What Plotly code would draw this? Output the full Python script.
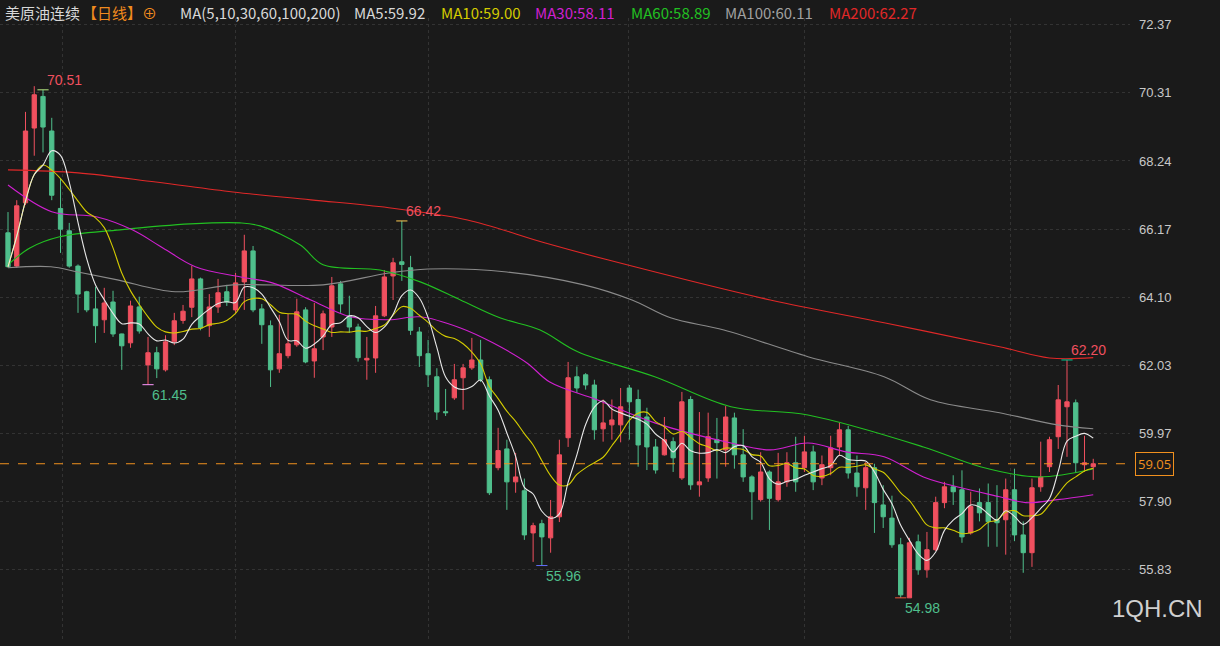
import plotly.graph_objects as go
import pandas as pd

# daily OHLC (index = candle number)
opens = [66.06, 65.05, 66.97, 69.24, 70.2, 69.15, 66.8, 66.12, 65.05, 64.27,
         63.75, 63.42, 63.96, 62.99, 62.72, 63.81, 62.05, 62.42, 61.9, 62.75,
         63.4, 63.8, 64.66, 63.24, 63.81, 64.27, 63.72, 64.57, 65.51, 63.75,
         63.24, 61.93, 62.33, 62.66, 63.72, 62.17, 62.9, 63.2, 64.51, 63.54,
         63.2, 62.2, 62.26, 63.54, 64.75, 65.18, 65.0, 63.05, 62.39, 61.69,
         60.63, 61.05, 61.66, 61.96, 62.2, 61.6, 58.93, 59.5, 58.5, 58.23,
         56.95, 57.23, 56.8, 57.44, 59.84, 61.69, 61.75, 61.44, 60.11, 60.23,
         60.23, 61.35, 61.0, 60.47, 59.56, 59.32, 59.72, 58.62, 61.0, 58.41,
         58.62, 59.78, 59.47, 60.44, 59.32, 58.65, 57.96, 58.8, 57.96, 58.5,
         59.08, 58.93, 59.41, 58.62, 58.93, 59.56, 60.08, 58.77, 58.32, 58.93,
         57.8, 57.4, 56.59, 54.98, 56.68, 55.83, 56.44, 57.87, 58.35, 58.26,
         56.95, 57.87, 57.87, 57.35, 57.35, 58.26, 56.89, 56.35, 58.35, 58.96,
         59.87, 60.78, 60.9, 59.02, 58.96]
closes = [65.03, 66.88, 69.15, 70.25, 69.27, 67.2, 66.17, 65.05, 64.2, 63.72,
          63.24, 63.93, 62.99, 62.63, 63.84, 63.08, 62.42, 61.93, 62.75, 63.39,
          63.68, 64.66, 63.17, 63.81, 64.24, 63.96, 64.54, 65.51, 63.72, 63.27,
          61.9, 62.39, 62.69, 63.66, 62.14, 62.54, 63.6, 64.45, 63.9, 63.2,
          62.27, 62.25, 63.54, 64.72, 65.15, 65.1, 63.1, 62.33, 61.75, 60.62,
          60.6, 61.6, 61.96, 62.2, 61.6, 58.17, 59.45, 58.5, 58.65, 56.89,
          57.17, 56.83, 57.44, 59.32, 61.66, 61.35, 61.44, 60.08, 60.29, 60.38,
          60.78, 60.93, 59.62, 59.56, 58.86, 59.78, 59.23, 60.93, 58.41, 58.5,
          59.87, 59.69, 60.47, 59.32, 58.65, 58.2, 58.8, 58.0, 58.5, 59.08,
          58.5, 59.41, 58.5, 59.02, 59.53, 60.08, 58.77, 58.35, 58.93, 57.87,
          57.44, 56.59, 55.07, 56.65, 55.83, 56.44, 57.87, 58.35, 58.2, 56.83,
          57.75, 57.56, 57.29, 57.26, 58.26, 56.89, 56.35, 58.32, 58.65, 59.78,
          60.99, 60.93, 59.08, 59.08, 59.05]
highs = [66.69, 67.05, 69.73, 70.51, 70.4, 69.55, 67.7, 66.36, 65.1, 64.3,
         64.42, 64.39, 64.3, 63.0, 64.0, 64.12, 62.9, 62.6, 62.95, 63.63,
         63.87, 65.06, 64.7, 64.2, 64.66, 64.48, 64.84, 66.0, 65.66, 63.9,
         63.4, 63.57, 63.6, 64.06, 63.8, 63.93, 63.7, 64.72, 64.6, 64.15,
         63.3, 62.9, 63.84, 64.93, 65.3, 66.42, 65.36, 63.2, 62.81, 61.95,
         61.32, 62.08, 62.08, 62.87, 62.81, 61.7, 60.14, 59.78, 59.38, 58.6,
         57.26, 57.35, 57.95, 59.78, 62.14, 62.0, 61.8, 61.6, 61.0, 61.0,
         61.35, 61.44, 61.3, 60.75, 59.8, 60.47, 59.85, 61.23, 61.1, 60.62,
         60.6, 60.44, 60.8, 60.6, 60.1, 58.7, 59.4, 58.85, 59.38, 59.4,
         59.87, 59.9, 59.6, 59.3, 59.9, 60.3, 60.2, 59.3, 59.1, 59.05,
         58.4, 58.08, 56.8, 56.8, 56.9, 56.98, 58.05, 58.5, 58.7, 58.85,
         58.2, 58.3, 58.45, 58.4, 58.6, 58.9, 57.3, 58.6, 59.72, 59.87,
         61.44, 62.2, 61.0, 59.9, 59.2]
lows = [65.0, 65.0, 66.9, 68.4, 68.5, 67.05, 65.45, 65.0, 63.63, 63.65,
        62.72, 63.02, 62.9, 61.9, 62.57, 63.0, 61.45, 61.65, 61.85, 62.65,
        63.3, 63.5, 63.1, 62.9, 63.63, 63.84, 63.63, 63.72, 63.65, 62.69,
        61.38, 61.81, 62.25, 62.6, 62.1, 61.66, 62.5, 62.9, 63.63, 63.02,
        62.15, 61.6, 61.81, 63.5, 64.02, 64.6, 62.96, 61.99, 61.38, 60.38,
        60.5, 60.99, 60.69, 61.9, 61.53, 58.1, 58.85, 57.65, 58.17, 56.74,
        56.07, 55.96, 56.35, 57.28, 59.56, 61.2, 61.3, 59.78, 59.72, 59.78,
        59.7, 59.78, 58.96, 58.86, 58.75, 59.3, 58.8, 58.56, 58.26, 58.05,
        58.5, 58.6, 58.96, 58.9, 58.5, 57.35, 57.9, 57.04, 57.9, 58.35,
        58.2, 58.8, 58.25, 58.4, 58.7, 59.3, 58.6, 58.05, 57.65, 56.95,
        57.1, 56.5, 54.98, 54.98, 55.68, 55.59, 56.4, 57.7, 57.8, 56.65,
        56.9, 57.3, 56.53, 56.53, 56.29, 56.7, 55.74, 55.92, 58.2, 58.8,
        59.5, 59.26, 58.77, 58.8, 58.56]

# longer moving averages at sample candles
ma30_x = [0, 5, 10.2, 14.2, 17.7, 21.4, 26.6, 30.2, 34.6, 39.1, 43.5, 47.1, 51.7, 55.4, 59.3,
          61.9, 67.3, 73.9, 82.6, 87.1, 91.4, 95.8, 100.1, 104.6, 108.9, 113.3, 116.3, 119.9, 124]
ma30_y = [67.51, 66.7, 66.54, 66.15, 65.6, 65.03, 64.72, 64.54, 64.02, 63.51, 63.42, 63.51, 63.17, 62.72, 62.11,
          61.53, 60.99, 60.29, 59.68, 59.47, 59.68, 59.41, 59.26, 58.65, 58.32, 58.05, 57.87, 57.96, 58.11]
ma60_x = [0, 2.5, 5.9, 12.8, 20.8, 26.5, 28.8, 33.4, 36, 42.5, 47.1, 51.7, 56.2, 60.8, 65.1,
          73.9, 82.6, 91.4, 104.6, 111.1, 117.6, 124]
ma60_y = [65.09, 65.6, 65.94, 66.15, 66.33, 66.36, 66.27, 65.69, 65.09, 64.93, 64.57, 64.02, 63.48, 63.11, 62.45,
          61.69, 60.78, 60.53, 59.56, 58.96, 58.65, 58.89]
ma100_x = [0, 4.9, 8, 12.5, 19.1, 25.7, 36, 43.5, 48, 57, 65.8, 71.3, 75.7, 81.8, 91.4, 100.1, 105.4,
           113.3, 119.9, 124]
ma100_y = [65.0, 65.03, 64.87, 64.63, 64.27, 64.48, 64.48, 64.84, 64.96, 64.87, 64.48, 64.02, 63.48, 63.11,
           62.3, 61.69, 60.99, 60.6, 60.23, 60.11]
ma200_x = [0, 8, 16.9, 25.7, 34.6, 43.5, 52.5, 61.4, 68.5, 87.1, 100.1, 113.3, 119, 124]
ma200_y = [67.97, 67.88, 67.6, 67.3, 67.06, 66.82, 66.45, 65.75, 65.24, 64.02, 63.33, 62.6, 62.26, 62.27]

price_ticks = [72.37, 70.31, 68.24, 66.17, 64.10, 62.03, 59.97, 57.90, 55.83]
month_lines = [6.2, 26, 48, 70.9, 91, 114.6]
last_price = 59.05

idx = list(range(len(opens)))
ma5 = pd.Series(closes).rolling(5, min_periods=1).mean()
ma10 = pd.Series(closes).rolling(10, min_periods=1).mean()

RED, GREEN = '#f0505f', '#4fbf8c'
fig = go.Figure()
fig.add_trace(go.Candlestick(x=idx, open=opens, high=highs, low=lows, close=closes,
                             increasing=dict(line=dict(color=RED, width=1), fillcolor=RED),
                             decreasing=dict(line=dict(color=GREEN, width=1), fillcolor=GREEN),
                             whiskerwidth=0, showlegend=False, hoverinfo='skip'))
for xs, ys, col in [(ma200_x, ma200_y, '#e02828'), (ma100_x, ma100_y, '#8a8a8a'),
                    (ma60_x, ma60_y, '#22c022'), (ma30_x, ma30_y, '#d020d0'),
                    (idx, ma10, '#d4cc00'), (idx, ma5, '#e8e8e8')]:
    fig.add_trace(go.Scatter(x=xs, y=ys, mode='lines', line=dict(color=col, width=1.1, shape='spline'),
                             showlegend=False, hoverinfo='skip'))

fig.add_hline(y=last_price, line=dict(color='#f0901e', width=1, dash='dash'))

# high / low labels
marks = [(4, highs[4], '70.51', RED, 'top'), (16, lows[16], '61.45', GREEN, 'bot'),
         (45, highs[45], '66.42', RED, 'top'), (61, lows[61], '55.96', GREEN, 'bot'),
         (102, lows[102], '54.98', GREEN, 'bot'), (121, highs[121], '62.20', RED, 'top')]
for i, v, t, c, pos in marks:
    fig.add_annotation(x=i, y=v, text=t, showarrow=False, xanchor='left', xshift=2,
                       yanchor='bottom' if pos == 'top' else 'top',
                       font=dict(color=c, size=14, family='Arial'))
    fig.add_trace(go.Scatter(x=[i], y=[v], mode='markers', showlegend=False, hoverinfo='skip',
                             marker=dict(symbol='line-ew-open', size=8, line=dict(color='#e0e0e0', width=1))))

# header, placed in page pixels
PW = 1130
def px(x):
    return x / PW
def py(y):
    return (640 - y) / 622

def hdr(x, text, color):
    fig.add_annotation(x=px(x), y=py(12), xref='paper', yref='paper', text=text,
                       showarrow=False, xanchor='left', yanchor='middle',
                       font=dict(color=color, size=15, family='Noto Sans CJK SC'))
hdr(3, '美原油连续', '#d8d8d8')
hdr(80, '【日线】', '#f08a1e')
hdr(140, '⊕', '#f08a1e')
hdr(178, 'MA(5,10,30,60,100,200)', '#d8d8d8')
hdr(352, 'MA5:59.92', '#d8d8d8')
hdr(439, 'MA10:59.00', '#d4cc00')
hdr(533, 'MA30:58.11', '#d020d0')
hdr(629, 'MA60:58.89', '#22c022')
hdr(723, 'MA100:60.11', '#a0a0a0')
hdr(827, 'MA200:62.27', '#e02828')

fig.add_annotation(x=1.0, y=last_price, xref='paper', text=f'{last_price:.2f}', showarrow=False,
                   xanchor='left', xshift=5, font=dict(color='#f0901e', size=13),
                   bordercolor='#f0901e', borderwidth=1, bgcolor='#1a1a1a', borderpad=2)
fig.add_annotation(x=px(1205), y=py(608), xref='paper', yref='paper', text='1QH.CN',
                   showarrow=False, xanchor='right', yanchor='middle',
                   font=dict(color='#d0d0d0', size=24, family='Arial'))

fig.update_layout(
    width=1220, height=646, margin=dict(l=0, r=90, t=18, b=6),
    paper_bgcolor='#1a1a1a', plot_bgcolor='#1a1a1a', hovermode=False,
    xaxis=dict(range=[-0.914, 128.2], rangeslider=dict(visible=False), showticklabels=False,
               tickvals=month_lines, showgrid=True, gridcolor='#333333', griddash='dot',
               zeroline=False, showline=False),
    yaxis=dict(range=[53.70, 72.58], side='right', tickvals=price_ticks,
               ticktext=[f'{v:.2f}' for v in price_ticks], showgrid=True, gridcolor='#333333',
               griddash='dot', zeroline=False, tickfont=dict(color='#c8c8c8', size=13, family='Arial'),
               ticks='', ticklabelstandoff=8),
)
fig.write_html('out.html', config={'displayModeBar': False},
               post_script="document.body.style.margin='0';document.body.style.background='#1a1a1a';")
